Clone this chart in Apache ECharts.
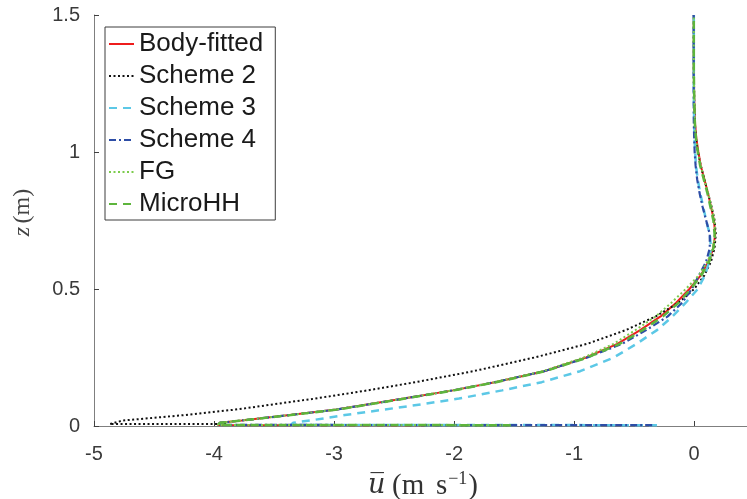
<!DOCTYPE html>
<html>
<head>
<meta charset="utf-8">
<script src="https://cdn.jsdelivr.net/npm/echarts@6/dist/echarts.min.js"></script>
<style>
  html, body { margin: 0; padding: 0; background: #fff; overflow: hidden; }
  #chart { width: 747px; height: 499px; }
</style>
</head>
<body>
<div id="chart"></div>
<script>
// Height levels (m) shared by every mean-velocity profile
const zLevels = [0.012, 0.02, 0.04, 0.06, 0.08, 0.10, 0.13, 0.16, 0.20, 0.25,
  0.30, 0.35, 0.40, 0.45, 0.50, 0.55, 0.60, 0.65, 0.70, 0.75,
  0.80, 0.85, 0.90, 0.95, 1.00, 1.05, 1.10, 1.20, 1.30, 1.40, 1.50];

// Mean streamwise velocity (m/s) at each level
const uBodyFitted = [-3.95, -3.77, -3.37, -2.98, -2.70, -2.42, -2.01, -1.66, -1.25, -0.90,
  -0.64, -0.45, -0.28, -0.15, -0.04, 0.055, 0.12, 0.16, 0.175, 0.165,
  0.14, 0.115, 0.085, 0.055, 0.035, 0.018, 0.008, 0.0, -0.003, -0.003, -0.003];
const uScheme2 = [-4.86, -4.76, -4.24, -3.82, -3.49, -3.16, -2.72, -2.32, -1.84, -1.33,
  -0.89, -0.57, -0.32, -0.13, 0.0, 0.085, 0.14, 0.17, 0.18, 0.17,
  0.145, 0.115, 0.085, 0.055, 0.03, 0.015, 0.006, 0.0, -0.003, -0.003, -0.003];
const uScheme3 = [-3.34, -3.20, -2.91, -2.58, -2.26, -1.96, -1.60, -1.27, -0.95, -0.67,
  -0.48, -0.31, -0.18, -0.07, 0.03, 0.09, 0.125, 0.14, 0.13, 0.10,
  0.075, 0.05, 0.03, 0.015, 0.008, 0.003, 0.0, -0.003, -0.003, -0.003, -0.003];
const uScheme4 = [-3.95, -3.77, -3.37, -2.98, -2.70, -2.42, -2.01, -1.66, -1.25, -0.89,
  -0.60, -0.40, -0.22, -0.10, -0.02, 0.04, 0.10, 0.13, 0.13, 0.10,
  0.07, 0.045, 0.025, 0.012, 0.004, 0.0, -0.003, -0.004, -0.004, -0.004, -0.004];
const uFG = [-3.95, -3.77, -3.37, -2.98, -2.70, -2.42, -2.01, -1.66, -1.26, -0.92,
  -0.67, -0.49, -0.32, -0.19, -0.07, 0.04, 0.11, 0.16, 0.175, 0.17,
  0.145, 0.115, 0.085, 0.055, 0.03, 0.015, 0.006, 0.0, -0.003, -0.003, -0.003];
const uMicroHH = [-3.95, -3.77, -3.36, -2.97, -2.69, -2.41, -2.00, -1.65, -1.24, -0.89,
  -0.62, -0.43, -0.26, -0.13, -0.03, 0.06, 0.125, 0.16, 0.17, 0.16,
  0.135, 0.11, 0.08, 0.05, 0.03, 0.015, 0.006, 0.0, -0.003, -0.003, -0.003];

// Near-wall points (u, z) sampled at the surface, preceding each profile
const wallBodyFitted = [[-2.25, 0.003], [-3.97, 0.004]];
const wallScheme2 = [[-3.9, 0.007], [-4.87, 0.007]];
const wallScheme3 = [[-0.31, 0.003], [-3.36, 0.004]];
const wallScheme4 = [[-0.35, 0.003], [-3.97, 0.004]];
const wallFG = [[-1.53, 0.003], [-3.97, 0.004]];
const wallMicroHH = [[-1.53, 0.003], [-3.97, 0.004]];

const seriesNames = ['Body-fitted', 'Scheme 2', 'Scheme 3', 'Scheme 4', 'FG', 'MicroHH'];
const xTicks = [-5, -4, -3, -2, -1, 0];

function profile(wall, u) {
  return wall.concat(u.map((v, i) => [v, zLevels[i]]));
}

const styles = [
  { color: '#ee1c1c', type: 'solid', width: 2 },
  { color: '#111111', type: [2, 2.5], width: 2 },
  { color: '#5cc8e6', type: [8, 6], width: 2.5 },
  { color: '#2d4da6', type: [7, 3, 2, 3], width: 2.2 },
  { color: '#7ccc4c', type: [2, 2.5], width: 2 },
  { color: '#5db53c', type: [8, 6], width: 2.5 }
];
const dataSets = [
  profile(wallBodyFitted, uBodyFitted),
  profile(wallScheme2, uScheme2),
  profile(wallScheme3, uScheme3),
  profile(wallScheme4, uScheme4),
  profile(wallFG, uFG),
  profile(wallMicroHH, uMicroHH)
];

const chart = echarts.init(document.getElementById('chart'), null, { renderer: 'canvas', width: 747, height: 499 });
const tickFont = { fontFamily: 'Liberation Sans, Arial, sans-serif', fontSize: 20, color: '#3a3a3a' };
const serif = 'Liberation Serif, DejaVu Serif, serif';

chart.setOption({
  animation: false,
  backgroundColor: '#ffffff',
  grid: { left: 94, width: 653, top: 15, height: 411, containLabel: false, outerBoundsMode: 'none' },
  legend: {
    orient: 'vertical',
    left: 105,
    top: 27,
    data: seriesNames,
    padding: [4, 12, 3, 3],
    itemGap: 6,
    itemWidth: 25,
    itemHeight: 12,
    itemStyle: { opacity: 0 },
    backgroundColor: '#ffffff',
    borderColor: '#3c3c3c',
    borderWidth: 1,
    textStyle: { fontFamily: 'Liberation Sans, Arial, sans-serif', fontSize: 26, color: '#1a1a1a', lineHeight: 26 }
  },
  xAxis: {
    type: 'value',
    min: -5,
    max: 0.44,
    interval: 1,
    splitLine: { show: false },
    axisLine: { onZero: false, lineStyle: { color: '#7f7f7f', width: 1 } },
    axisTick: { inside: true, length: 5, lineStyle: { color: '#404040' }, customValues: xTicks },
    axisLabel: Object.assign({ margin: 18, customValues: xTicks, formatter: v => String(v) }, tickFont),
    name: '{i|u\u0305}  {t|(m\u2009\u2009s}{s|\u22121}{t|)}',
    nameLocation: 'middle',
    nameGap: 44,
    nameTextStyle: {
      padding: [0, 0, 0, 5],
      rich: {
        i: { fontFamily: 'DejaVu Serif, serif', fontStyle: 'italic', fontSize: 27, color: '#333' },
        t: { fontFamily: serif, fontSize: 29, color: '#333' },
        s: { fontFamily: serif, fontSize: 18, color: '#333', padding: [0, 1, 14, 1] }
      }
    }
  },
  yAxis: {
    type: 'value',
    min: 0,
    max: 1.5,
    interval: 0.5,
    splitLine: { show: false },
    axisLine: { onZero: false, lineStyle: { color: '#7f7f7f', width: 1 } },
    axisTick: { inside: true, length: 5, lineStyle: { color: '#404040' } },
    axisLabel: Object.assign({ margin: 14 }, tickFont),
    name: '{i|z} {t|(m)}',
    nameLocation: 'middle',
    nameRotate: 90,
    nameGap: 59,
    nameTextStyle: {
      padding: [0, 0, 0, 16],
      rich: {
        i: { fontFamily: serif, fontStyle: 'italic', fontSize: 24, color: '#444' },
        t: { fontFamily: serif, fontSize: 24, color: '#444' }
      }
    }
  },
  series: seriesNames.map((name, k) => ({
    name: name,
    type: 'line',
    data: dataSets[k],
    showSymbol: false,
    symbol: 'none',
    smooth: false,
    lineStyle: styles[k],
    itemStyle: { color: styles[k].color },
    emphasis: { disabled: true },
    z: 2 + k
  }))
});
</script>
</body>
</html>
